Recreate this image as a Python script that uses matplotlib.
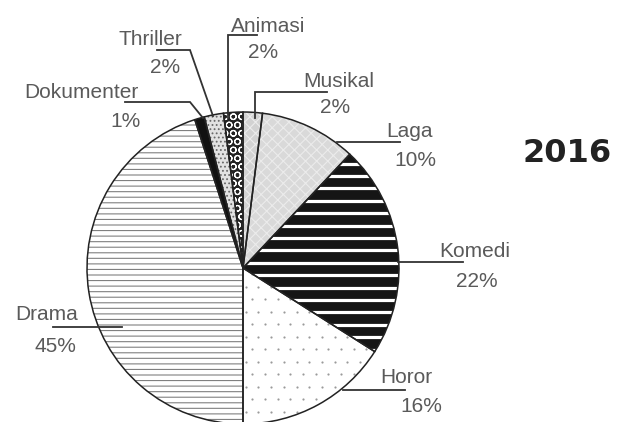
import matplotlib.pyplot as plt
import numpy as np

# data
genres = ['Musikal', 'Laga', 'Komedi', 'Horor', 'Drama', 'Dokumenter', 'Thriller', 'Animasi']
shares = [2, 10, 22, 16, 45, 1, 2, 2]
year = '2016'

W, H = 619, 422


def fy(y):
    # pixel row (from top) -> data y
    return H - y


cx, cy, R = 243, fy(268), 156

plt.rcParams['hatch.linewidth'] = 0.8

fig = plt.figure(figsize=(W / 100, H / 100), dpi=100)
ax = fig.add_axes([0, 0, 1, 1])

fills = {
    'Musikal': dict(facecolor='#d2d2d2', edgecolor='#ececec', hatch='xxx'),
    'Laga': dict(facecolor='#d9d9d9', edgecolor='#ebebeb', hatch='xxx'),
    'Komedi': dict(facecolor='#151515', edgecolor='#151515'),
    'Horor': dict(facecolor='white', edgecolor='white'),
    'Drama': dict(facecolor='white', edgecolor='#808080', hatch='---'),
    'Dokumenter': dict(facecolor='#111111', edgecolor='#111111'),
    'Thriller': dict(facecolor='#e2e2e2', edgecolor='#6a6a6a', hatch='....'),
    'Animasi': dict(facecolor='#222222', edgecolor='white', hatch='OO'),
}

wedges, _ = ax.pie(shares, startangle=90, counterclock=False, center=(cx, cy),
                   radius=R, wedgeprops=dict(linewidth=0))
for w, g in zip(wedges, genres):
    w.set(**fills[g])

# white stripes on Komedi
kom = wedges[genres.index('Komedi')]
for y in np.arange(cy - R, cy + R, 12.4):
    ln, = ax.plot([cx - R, cx + R], [y, y], color='white', lw=2.3,
                  solid_capstyle='butt', zorder=2)
    ln.set_clip_path(kom)

# sparse dots on Horor
hor = wedges[genres.index('Horor')]
gx, gy = np.meshgrid(np.arange(cx - R, cx + R, 12.7), np.arange(cy - R, cy + R, 12.5))
gx = gx + (np.arange(gx.shape[0])[:, None] % 2) * 6.35
dots = ax.scatter(gx.ravel(), gy.ravel(), s=2.5, color='#9a9a9a', linewidths=0, zorder=2)
dots.set_clip_path(hor)

# outlines
ax.pie(shares, startangle=90, counterclock=False, center=(cx, cy), radius=R,
       wedgeprops=dict(facecolor='none', edgecolor='#222222', linewidth=1.1, zorder=3))

# label layout (pixels from top-left): name center x, baseline; pct center x, baseline
name_pos = {'Musikal': (339, 87), 'Laga': (410, 137), 'Komedi': (475, 257), 'Horor': (406, 383),
            'Drama': (47, 320), 'Dokumenter': (81, 98), 'Thriller': (150, 45), 'Animasi': (268, 32)}
pct_pos = {'Musikal': (335, 113), 'Laga': (415, 166), 'Komedi': (477, 287), 'Horor': (421, 412),
           'Drama': (55, 352), 'Dokumenter': (125, 127), 'Thriller': (165, 73), 'Animasi': (263, 58)}
leaders = {
    'Drama': [(122, 327), (53, 327)],
    'Horor': [(343, 390), (405, 390)],
    'Komedi': [(398, 262), (463, 262)],
    'Laga': [(337, 142), (400, 142)],
    'Musikal': [(255, 118), (255, 92), (327, 92)],
    'Animasi': [(228, 118), (228, 35), (257, 35)],
    'Thriller': [(213, 116), (190, 50), (157, 50)],
    'Dokumenter': [(203, 118), (190, 102), (125, 102)],
}

for g, v in zip(genres, shares):
    pts = leaders[g]
    ax.plot([p[0] for p in pts], [fy(p[1]) for p in pts], color='#333333', lw=1.3,
            zorder=4, solid_joinstyle='miter')
    nx, ny = name_pos[g]
    ax.text(nx, fy(ny), g, ha='center', va='baseline', fontsize=15,
            family='Liberation Sans', color='#5a5a5a', zorder=5)
    px, py = pct_pos[g]
    ax.text(px, fy(py), f'{v}%', ha='center', va='baseline', fontsize=15,
            family='Liberation Sans', color='#5a5a5a', zorder=5)

ax.text(567, fy(153), year, ha='center', va='center', fontsize=23,
        fontweight='bold', family='DejaVu Sans', color='#222222')

ax.set_xlim(0, W)
ax.set_ylim(0, H)
ax.set_aspect('equal')
ax.axis('off')

fig.savefig('out.png', dpi=100)
